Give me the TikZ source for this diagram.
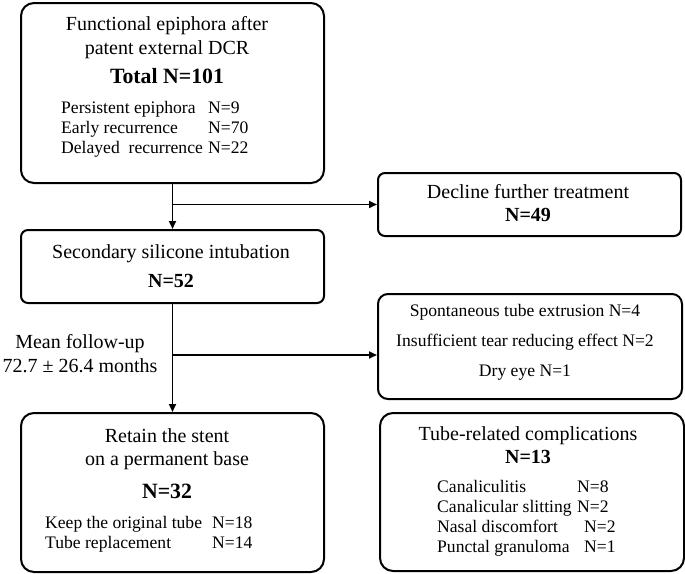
\documentclass[tikz,border=0pt]{standalone}
\usepackage{fontspec}
\setmainfont{Liberation Serif}
\usetikzlibrary{arrows.meta}
\newcommand{\mainsz}{\fontsize{20}{24}\selectfont}
\newcommand{\itemsz}{\fontsize{17.6}{20}\selectfont}
\newcommand{\bigsz}{\fontsize{21.8}{26}\selectfont\bfseries}

\begin{document}
\begin{tikzpicture}[x=1pt,y=-1pt,
  box/.style={draw,line width=2pt,anchor=north west,inner sep=0pt},
  head/.style={anchor=north,inner sep=0pt,align=center,font=\mainsz},
  list/.style={anchor=north west,inner sep=0pt,font=\itemsz},
  link/.style={line width=1.9pt,-{Triangle[length=8pt,width=7pt]}}]
\useasboundingbox (0,0) rectangle (685,573);

% left column
\node[box,rounded corners=13pt,minimum width=303pt,minimum height=180pt] (epi) at (20,2) {};
\node[box,rounded corners=7pt,minimum width=303pt,minimum height=73pt] (sil) at (20,229) {};
\node[box,rounded corners=13pt,minimum width=303pt,minimum height=159pt] (ret) at (20,412) {};
% right column
\node[box,rounded corners=7pt,minimum width=303pt,minimum height=63pt] (decline) at (377,172) {};
\node[box,rounded corners=10pt,minimum width=304pt,minimum height=105pt] (spont) at (377,293) {};
\node[box,rounded corners=13pt,minimum width=304pt,minimum height=158pt] (tube) at (379,412) {};

% texts
\node[head] (epihead) at (167,16.3) {Functional epiphora after\\patent external DCR\\[5pt]{\bigsz Total N=101}};
\node[list] (epilist) at (61,99) {\begin{tabular}{@{}p{147pt}@{}l@{}}
Persistent epiphora & N=9\\
Early recurrence & N=70\\
Delayed\ \ recurrence & N=22
\end{tabular}};
\node[head] (declhead) at (528,184.3) {Decline further treatment\\[-1pt]\textbf{N=49}};
\node[head] (silhead) at (171,244.3) {Secondary silicone intubation\\[5pt]\textbf{N=52}};
\node[head] (fuptxt) at (80,334.3) {Mean follow-up\\72.7 ± 26.4 months};
\node[head,font=\fontsize{17.6}{24}\selectfont] (sponthead) at (525,304.3) {Spontaneous tube extrusion N=4\\[6pt]Insufficient tear reducing effect N=2\\[6pt]Dry eye N=1};
\node[head] (rethead) at (167,428.3) {Retain the stent\\[-1pt]on a permanent base\\[9pt]{\bigsz N=32}};
\node[list] (retlist) at (45,514) {\begin{tabular}{@{}p{167pt}@{}l@{}}
Keep the original tube & N=18\\
Tube replacement & N=14
\end{tabular}};
\node[head] (tubehead) at (528,426.3) {Tube-related complications\\[-1pt]\textbf{N=13}};
\node[list] (tubelist) at (437,478) {\begin{tabular}{@{}p{140pt}@{}l@{}}
Canaliculitis & N=8\\
Canalicular slitting & N=2\\
Nasal discomfort & \hspace{7pt}N=2\\
Punctal granuloma & \hspace{7pt}N=1
\end{tabular}};

% connectors
\draw[link] (epi.south) -- (sil.north);
\coordinate (br1) at (epi.south |- decline.west);
\draw[link] (br1) -- (decline.west);
\draw[link] (sil.south) -- (ret.north);
\coordinate (br2) at (171.5,355);
\draw[link] (br2) -- (br2 -| spont.west);
\end{tikzpicture}
\end{document}
